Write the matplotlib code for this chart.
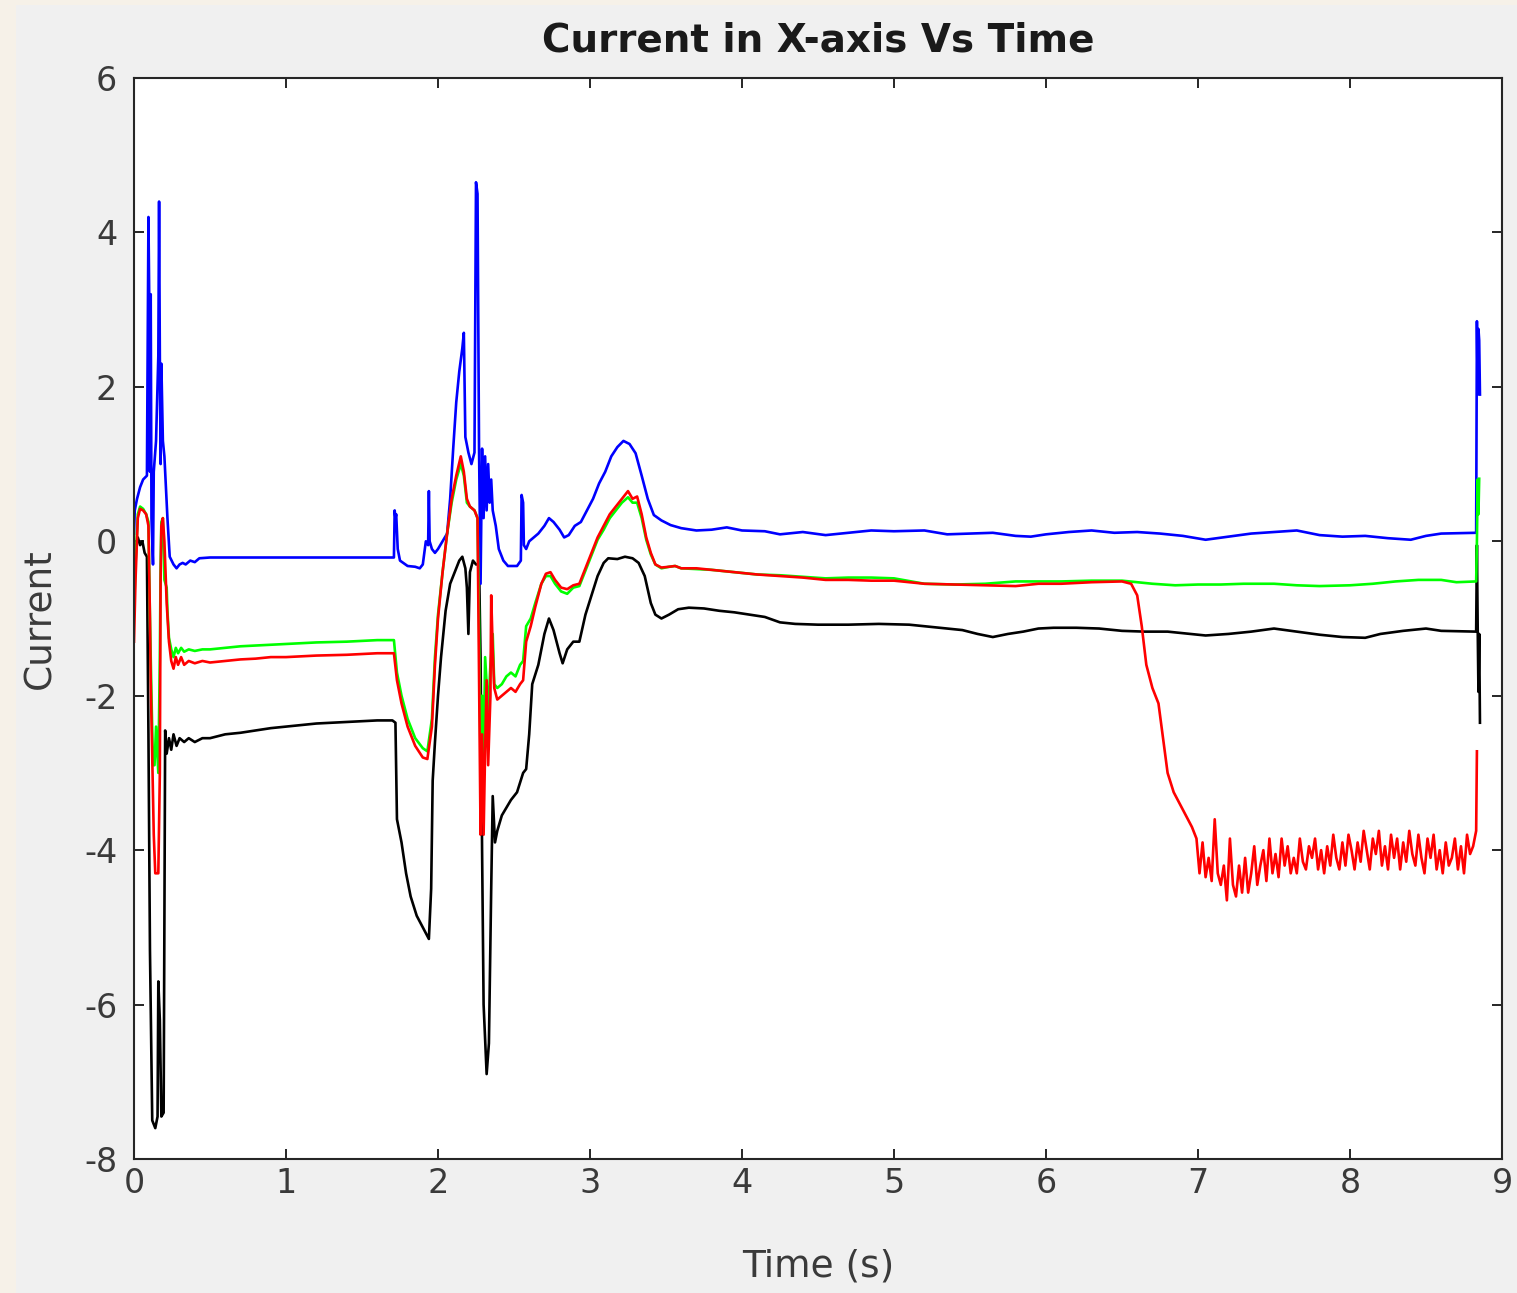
import matplotlib
matplotlib.use("Agg")
import matplotlib.pyplot as plt
from matplotlib.patches import Rectangle

plt.rcParams["font.family"] = "DejaVu Sans"
plt.rcParams["axes.unicode_minus"] = False

# (time, current) samples
blue_pts = [
    (0.0, 0.1), (0.005, 0.4), (0.02, 0.55), (0.04, 0.7), (0.06, 0.8), (0.085, 0.85),
    (0.095, 4.2), (0.10, 3.2), (0.105, 0.9), (0.11, 3.2), (0.115, 0.3), (0.125, -0.3),
    (0.13, 0.9), (0.145, 1.3), (0.16, 2.4), (0.165, 4.4), (0.17, 2.4), (0.175, 1.0),
    (0.18, 2.3), (0.19, 1.3), (0.20, 1.1), (0.22, 0.3), (0.235, -0.2), (0.26, -0.3),
    (0.28, -0.35), (0.30, -0.3), (0.32, -0.28), (0.34, -0.3), (0.37, -0.25), (0.40, -0.27),
    (0.43, -0.22), (0.50, -0.21), (1.0, -0.21), (1.5, -0.21), (1.71, -0.21), (1.715, 0.4),
    (1.72, 0.3), (1.725, 0.35), (1.735, -0.1), (1.75, -0.25), (1.80, -0.32), (1.85, -0.33),
    (1.88, -0.35), (1.90, -0.3), (1.92, 0.0), (1.935, -0.05), (1.94, 0.65), (1.945, 0.0),
    (1.96, -0.1), (1.98, -0.15), (2.00, -0.1), (2.03, 0.0), (2.06, 0.1), (2.08, 0.55),
    (2.10, 1.2), (2.12, 1.8), (2.14, 2.2), (2.16, 2.5), (2.17, 2.7), (2.18, 1.35),
    (2.20, 1.15), (2.22, 1.0), (2.24, 1.15), (2.25, 4.65), (2.26, 4.5), (2.27, 1.2),
    (2.28, -0.55), (2.29, 1.2), (2.30, 0.3), (2.31, 1.1), (2.32, 0.4), (2.33, 1.0),
    (2.34, 0.5), (2.35, 0.8), (2.36, 0.4), (2.38, 0.2), (2.40, -0.1), (2.43, -0.25),
    (2.46, -0.32), (2.52, -0.32), (2.545, -0.25), (2.55, 0.6), (2.56, 0.5), (2.565, -0.05),
    (2.58, -0.1), (2.60, 0.0), (2.63, 0.05), (2.66, 0.1), (2.70, 0.2), (2.73, 0.3),
    (2.76, 0.25), (2.80, 0.15), (2.83, 0.05), (2.86, 0.08), (2.90, 0.2), (2.94, 0.25),
    (2.98, 0.4), (3.02, 0.55), (3.06, 0.75), (3.10, 0.9), (3.14, 1.1), (3.18, 1.22),
    (3.22, 1.3), (3.26, 1.26), (3.30, 1.14), (3.34, 0.85), (3.38, 0.55), (3.42, 0.34),
    (3.47, 0.27), (3.53, 0.21), (3.60, 0.17), (3.70, 0.14), (3.80, 0.15), (3.90, 0.18),
    (4.00, 0.14), (4.15, 0.13), (4.25, 0.09), (4.4, 0.12), (4.55, 0.08), (4.7, 0.11),
    (4.85, 0.14), (5.0, 0.13), (5.2, 0.14), (5.35, 0.09), (5.5, 0.1), (5.65, 0.11),
    (5.8, 0.07), (5.9, 0.06), (6.0, 0.09), (6.15, 0.12), (6.3, 0.14), (6.45, 0.11),
    (6.6, 0.12), (6.75, 0.1), (6.9, 0.07), (7.05, 0.02), (7.2, 0.06), (7.35, 0.1),
    (7.5, 0.12), (7.65, 0.14), (7.8, 0.08), (7.95, 0.06), (8.1, 0.07), (8.25, 0.04),
    (8.4, 0.02), (8.5, 0.07), (8.6, 0.1), (8.83, 0.11), (8.835, 2.85), (8.84, 1.9),
    (8.845, 2.75), (8.85, 2.6), (8.855, 1.9),
]

green_pts = [
    (0.0, -0.9), (0.01, -0.3), (0.025, 0.35), (0.04, 0.45), (0.06, 0.42), (0.08, 0.35),
    (0.095, 0.25), (0.105, -1.0), (0.115, -2.0), (0.125, -2.9), (0.135, -2.9), (0.145, -2.4),
    (0.16, -3.0), (0.17, -1.5), (0.175, -0.3), (0.18, 0.25), (0.19, 0.3), (0.20, -0.5),
    (0.215, -0.6), (0.22, -0.9), (0.23, -1.25), (0.245, -1.4), (0.26, -1.5), (0.275, -1.38),
    (0.29, -1.45), (0.31, -1.38), (0.33, -1.43), (0.36, -1.4), (0.40, -1.42), (0.45, -1.4),
    (0.50, -1.4), (0.60, -1.38), (0.70, -1.36), (0.80, -1.35), (0.90, -1.34), (1.0, -1.33),
    (1.2, -1.31), (1.4, -1.3), (1.6, -1.28), (1.71, -1.28), (1.73, -1.7), (1.76, -2.0),
    (1.80, -2.3), (1.85, -2.55), (1.90, -2.68), (1.93, -2.72), (1.96, -2.3), (1.98, -1.5),
    (2.00, -0.95), (2.03, -0.4), (2.06, 0.1), (2.09, 0.5), (2.12, 0.8), (2.15, 1.0),
    (2.17, 0.85), (2.19, 0.5), (2.21, 0.45), (2.24, 0.4), (2.26, 0.3), (2.27, -1.0),
    (2.28, -2.9), (2.29, -2.0), (2.30, -2.9), (2.31, -1.5), (2.33, -2.2), (2.345, -1.6),
    (2.36, -1.2), (2.37, -1.85), (2.39, -1.9), (2.42, -1.85), (2.45, -1.75), (2.48, -1.7),
    (2.51, -1.75), (2.54, -1.6), (2.56, -1.55), (2.58, -1.1), (2.61, -1.0), (2.64, -0.8),
    (2.68, -0.55), (2.71, -0.45), (2.74, -0.45), (2.77, -0.55), (2.81, -0.65), (2.85, -0.68),
    (2.89, -0.6), (2.93, -0.58), (2.97, -0.38), (3.01, -0.18), (3.05, 0.02), (3.09, 0.15),
    (3.13, 0.3), (3.17, 0.4), (3.21, 0.5), (3.25, 0.57), (3.28, 0.5), (3.31, 0.5),
    (3.34, 0.3), (3.37, 0.02), (3.40, -0.17), (3.43, -0.3), (3.47, -0.35), (3.52, -0.33),
    (3.56, -0.32), (3.60, -0.35), (3.70, -0.36), (3.8, -0.37), (3.95, -0.4), (4.1, -0.43),
    (4.25, -0.44), (4.4, -0.46), (4.55, -0.48), (4.7, -0.47), (4.85, -0.47), (5.0, -0.48),
    (5.2, -0.55), (5.4, -0.56), (5.6, -0.55), (5.8, -0.52), (5.95, -0.52), (6.1, -0.52),
    (6.3, -0.51), (6.5, -0.51), (6.6, -0.53), (6.7, -0.55), (6.85, -0.57), (7.0, -0.56),
    (7.15, -0.56), (7.3, -0.55), (7.5, -0.55), (7.65, -0.57), (7.8, -0.58), (8.0, -0.57),
    (8.15, -0.55), (8.3, -0.52), (8.45, -0.5), (8.6, -0.5), (8.7, -0.53), (8.83, -0.52),
    (8.835, 0.0), (8.84, 0.8), (8.845, 0.35), (8.85, 0.81),
]

red_pts = [
    (0.0, -1.3), (0.01, -0.5), (0.025, 0.3), (0.04, 0.42), (0.06, 0.4), (0.08, 0.35),
    (0.095, 0.2), (0.105, -1.0), (0.11, -1.8), (0.12, -2.8), (0.13, -3.8), (0.14, -4.3),
    (0.16, -4.3), (0.17, -3.0), (0.175, -0.5), (0.18, 0.2), (0.19, 0.3), (0.20, 0.0),
    (0.215, -0.8), (0.23, -1.3), (0.245, -1.55), (0.26, -1.65), (0.275, -1.5), (0.29, -1.6),
    (0.31, -1.5), (0.33, -1.6), (0.36, -1.55), (0.40, -1.58), (0.45, -1.55), (0.50, -1.57),
    (0.60, -1.55), (0.70, -1.53), (0.80, -1.52), (0.90, -1.5), (1.0, -1.5), (1.2, -1.48),
    (1.4, -1.47), (1.6, -1.45), (1.71, -1.45), (1.73, -1.8), (1.76, -2.1), (1.80, -2.4),
    (1.85, -2.65), (1.90, -2.8), (1.93, -2.82), (1.96, -2.4), (1.98, -1.6), (2.00, -1.0),
    (2.03, -0.4), (2.06, 0.1), (2.09, 0.55), (2.12, 0.85), (2.15, 1.1), (2.17, 0.9),
    (2.19, 0.55), (2.21, 0.45), (2.24, 0.4), (2.26, 0.3), (2.27, -1.8), (2.28, -3.8),
    (2.29, -2.5), (2.30, -3.8), (2.31, -2.7), (2.32, -1.8), (2.33, -2.9), (2.345, -2.0),
    (2.35, -0.7), (2.36, -1.4), (2.37, -1.9), (2.39, -2.05), (2.42, -2.0), (2.45, -1.95),
    (2.48, -1.9), (2.51, -1.95), (2.54, -1.85), (2.56, -1.8), (2.58, -1.3), (2.61, -1.1),
    (2.64, -0.85), (2.68, -0.55), (2.71, -0.42), (2.74, -0.4), (2.77, -0.5), (2.81, -0.6),
    (2.85, -0.62), (2.89, -0.57), (2.93, -0.55), (2.97, -0.35), (3.01, -0.15), (3.05, 0.05),
    (3.09, 0.2), (3.13, 0.35), (3.17, 0.45), (3.21, 0.55), (3.25, 0.65), (3.28, 0.55),
    (3.31, 0.58), (3.34, 0.35), (3.37, 0.05), (3.40, -0.15), (3.43, -0.3), (3.47, -0.34),
    (3.52, -0.33), (3.56, -0.32), (3.60, -0.35), (3.70, -0.35), (3.8, -0.37), (3.95, -0.4),
    (4.1, -0.43), (4.25, -0.45), (4.4, -0.47), (4.55, -0.5), (4.7, -0.5), (4.85, -0.51),
    (5.0, -0.51), (5.2, -0.55), (5.4, -0.56), (5.6, -0.57), (5.8, -0.58), (5.95, -0.55),
    (6.1, -0.55), (6.3, -0.53), (6.5, -0.52), (6.56, -0.55), (6.60, -0.7), (6.63, -1.1),
    (6.66, -1.6), (6.70, -1.9), (6.74, -2.1), (6.77, -2.55), (6.80, -3.0), (6.84, -3.25),
    (6.88, -3.4), (6.92, -3.55), (6.96, -3.7), (6.99, -3.85),
    (7.01, -4.3), (7.03, -3.9), (7.05, -4.35), (7.07, -4.1), (7.09, -4.4), (7.11, -3.6),
    (7.13, -4.3), (7.15, -4.45), (7.17, -4.2), (7.19, -4.65), (7.21, -3.85), (7.23, -4.45),
    (7.25, -4.6), (7.27, -4.2), (7.29, -4.55), (7.31, -4.1), (7.33, -4.55), (7.35, -4.3),
    (7.37, -3.95), (7.39, -4.45), (7.41, -4.2), (7.43, -4.0), (7.45, -4.4), (7.47, -3.85),
    (7.49, -4.3), (7.51, -4.05), (7.53, -4.35), (7.55, -3.85), (7.57, -4.2), (7.59, -3.95),
    (7.61, -4.3), (7.63, -4.1), (7.65, -4.3), (7.67, -3.85), (7.69, -4.15), (7.71, -4.25),
    (7.73, -3.95), (7.75, -4.1), (7.77, -3.85), (7.79, -4.25), (7.81, -4.0), (7.83, -4.3),
    (7.85, -3.95), (7.87, -4.2), (7.89, -3.8), (7.91, -4.1), (7.93, -4.25), (7.95, -3.9),
    (7.97, -4.2), (7.99, -3.8), (8.01, -4.0), (8.03, -4.25), (8.05, -3.9), (8.07, -4.15),
    (8.09, -3.75), (8.11, -4.0), (8.13, -4.25), (8.15, -3.85), (8.17, -4.05), (8.19, -3.75),
    (8.21, -4.2), (8.23, -3.95), (8.25, -4.25), (8.27, -3.8), (8.29, -4.1), (8.31, -3.85),
    (8.33, -4.25), (8.35, -3.9), (8.37, -4.15), (8.39, -3.75), (8.41, -4.05), (8.43, -4.2),
    (8.45, -3.8), (8.47, -4.1), (8.49, -4.3), (8.51, -3.85), (8.53, -4.1), (8.55, -3.8),
    (8.57, -4.25), (8.59, -4.0), (8.61, -4.3), (8.63, -3.9), (8.65, -4.2), (8.67, -4.1),
    (8.69, -3.85), (8.71, -4.25), (8.73, -3.95), (8.75, -4.3), (8.77, -3.8), (8.79, -4.05),
    (8.81, -3.95), (8.83, -3.75), (8.835, -2.72),
]

black_pts = [
    (0.0, -0.8), (0.010, -0.1), (0.025, 0.05), (0.040, -0.05), (0.055, 0.0), (0.070, -0.15),
    (0.085, -0.2), (0.095, -2.5), (0.105, -5.3), (0.120, -7.5), (0.140, -7.6), (0.155, -7.45),
    (0.160, -5.7), (0.170, -6.2), (0.180, -7.45), (0.195, -7.4), (0.205, -2.45), (0.215, -2.75),
    (0.23, -2.55), (0.245, -2.7), (0.26, -2.5), (0.28, -2.65), (0.30, -2.55), (0.33, -2.6),
    (0.36, -2.55), (0.40, -2.6), (0.45, -2.55), (0.50, -2.55), (0.60, -2.5), (0.70, -2.48),
    (0.80, -2.45), (0.90, -2.42), (1.00, -2.4), (1.10, -2.38), (1.20, -2.36), (1.30, -2.35),
    (1.40, -2.34), (1.50, -2.33), (1.60, -2.32), (1.70, -2.32), (1.72, -2.35), (1.73, -3.6),
    (1.76, -3.9), (1.79, -4.3), (1.82, -4.6), (1.86, -4.85), (1.90, -5.0), (1.94, -5.15),
    (1.955, -4.5), (1.965, -3.1), (1.98, -2.6), (2.00, -2.0), (2.02, -1.5), (2.05, -0.9),
    (2.08, -0.55), (2.11, -0.4), (2.14, -0.25), (2.16, -0.2), (2.18, -0.35), (2.19, -0.6),
    (2.20, -1.2), (2.21, -0.4), (2.23, -0.25), (2.25, -0.3), (2.27, -0.3), (2.28, -1.5),
    (2.29, -4.0), (2.30, -6.0), (2.32, -6.9), (2.335, -6.5), (2.35, -4.5), (2.36, -3.3),
    (2.375, -3.9), (2.39, -3.75), (2.42, -3.55), (2.45, -3.45), (2.48, -3.35), (2.52, -3.25),
    (2.56, -3.0), (2.58, -2.95), (2.60, -2.5), (2.62, -1.85), (2.66, -1.6), (2.70, -1.2),
    (2.73, -1.0), (2.76, -1.15), (2.80, -1.45), (2.82, -1.58), (2.85, -1.4), (2.89, -1.3),
    (2.93, -1.3), (2.97, -0.95), (3.01, -0.7), (3.05, -0.45), (3.09, -0.28), (3.12, -0.22),
    (3.18, -0.23), (3.23, -0.2), (3.28, -0.22), (3.32, -0.28), (3.36, -0.45), (3.40, -0.8),
    (3.43, -0.95), (3.47, -1.0), (3.52, -0.95), (3.58, -0.88), (3.65, -0.86), (3.75, -0.87),
    (3.85, -0.9), (3.95, -0.92), (4.05, -0.95), (4.15, -0.98), (4.25, -1.05), (4.35, -1.07),
    (4.5, -1.08), (4.7, -1.08), (4.9, -1.07), (5.1, -1.08), (5.3, -1.12), (5.45, -1.15),
    (5.55, -1.2), (5.65, -1.24), (5.75, -1.2), (5.85, -1.17), (5.95, -1.13), (6.05, -1.12),
    (6.2, -1.12), (6.35, -1.13), (6.5, -1.16), (6.65, -1.17), (6.8, -1.17), (6.95, -1.2),
    (7.05, -1.22), (7.2, -1.2), (7.35, -1.17), (7.5, -1.13), (7.65, -1.17), (7.8, -1.21),
    (7.95, -1.24), (8.1, -1.25), (8.2, -1.2), (8.35, -1.16), (8.5, -1.13), (8.6, -1.16),
    (8.83, -1.17), (8.835, -0.05), (8.84, -1.1), (8.845, -1.95), (8.85, -1.2), (8.855, -2.35),
]

x_ticks = [0, 1, 2, 3, 4, 5, 6, 7, 8, 9]
y_ticks = [-8, -6, -4, -2, 0, 2, 4, 6]

W, H = 1517, 1293
fig = plt.figure(figsize=(W / 100, H / 100), dpi=100)
# grey MATLAB figure window with a cream margin at the left and top
fig.patch.set_facecolor("#f0f0f0")
fig.add_artist(Rectangle((0, 0), 16 / W, 1, transform=fig.transFigure,
                         facecolor="#f6f1e8", edgecolor="none", zorder=-5))
fig.add_artist(Rectangle((0, 1 - 5 / H), 1, 5 / H, transform=fig.transFigure,
                         facecolor="#f6f1e8", edgecolor="none", zorder=-5))

ax = fig.add_axes([134 / W, 1 - 1159 / H, (1502 - 134) / W, (1159 - 78) / H])
ax.set_facecolor("white")

lw = 1.9
for pts, col in [(black_pts, "black"), (blue_pts, "#0000ff"),
                 (green_pts, "#00ff00"), (red_pts, "#ff0000")]:
    t, v = zip(*pts)
    ax.plot(t, v, color=col, linewidth=lw)

ax.set_xlim(0, 9)
ax.set_ylim(-8, 6)
ax.set_xticks(x_ticks)
ax.set_yticks(y_ticks)

txt = "#262626"
for s in ax.spines.values():
    s.set_linewidth(1.5)
    s.set_color(txt)
ax.tick_params(direction="in", length=7, width=1.4, color=txt, labelcolor="#3a3a3a",
               labelsize=24, top=True, right=True)
ax.tick_params(axis="x", pad=6)
ax.tick_params(axis="y", pad=12)

ax.set_title("Current in X-axis Vs Time", fontsize=28, fontweight="bold",
             color="#1a1a1a", pad=19)
ax.set_xlabel("Time (s)", fontsize=27, color="#3a3a3a")
ax.set_ylabel("Current", fontsize=27, color="#3a3a3a")
ax.xaxis.set_label_coords(0.5, -0.083)
ax.yaxis.set_label_coords(-0.055, 0.5)

fig.savefig("out.png", dpi=100, facecolor=fig.get_facecolor())
